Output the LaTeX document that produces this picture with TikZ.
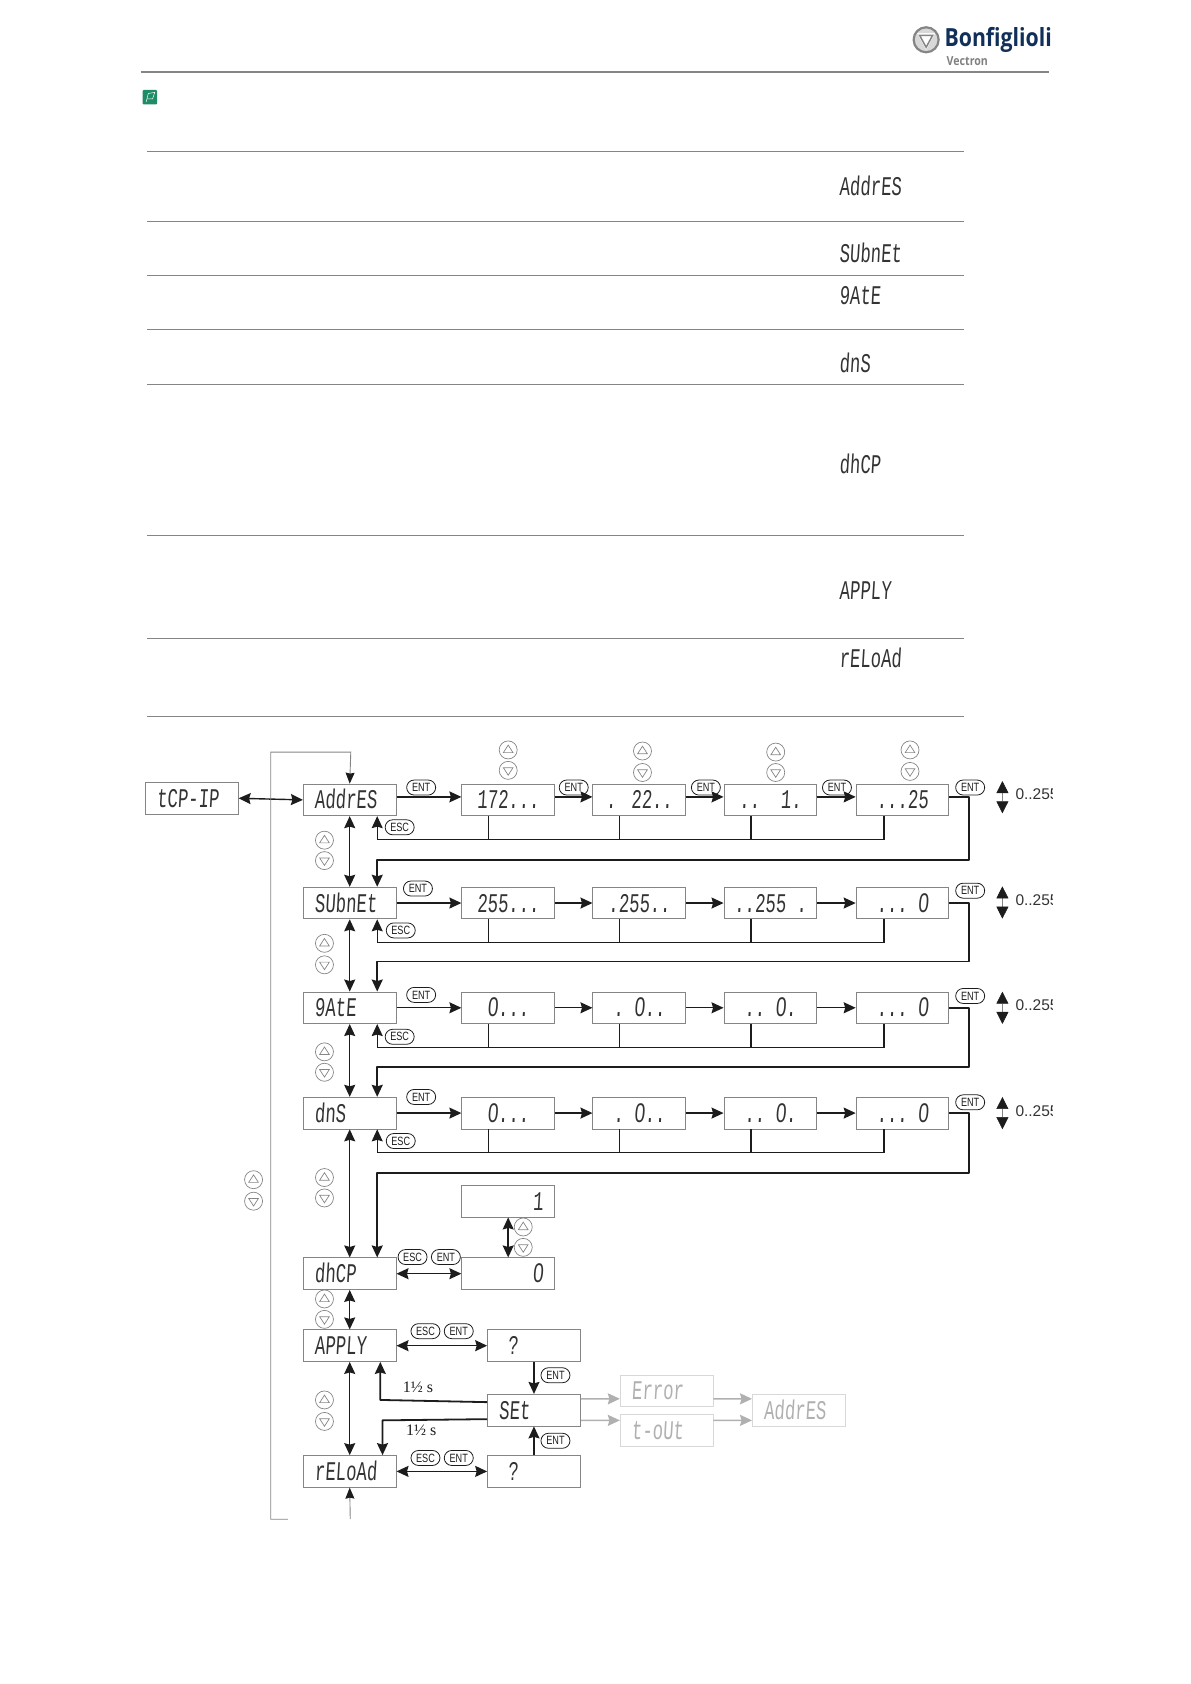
\documentclass[tikz,border=0pt]{standalone}
\usepackage{fontspec}
\usetikzlibrary{arrows.meta,shapes.misc}
\setmainfont{Liberation Sans}
\newfontfamily\lcd[FakeStretch=0.64,FakeSlant=0.06]{Liberation Mono}
\newfontfamily\lcdalt[FakeStretch=0.7,FakeSlant=0.08]{Liberation Sans}
\newfontfamily\pillfont[FakeStretch=0.76]{Liberation Sans}
\newfontfamily\logofont[FakeStretch=0.85]{Open Sans}
\newfontfamily\timefont{Liberation Serif}
\newcommand{\Zr}{{\lcdalt 0}}
\definecolor{ink}{HTML}{1C1C1C}
\definecolor{boxline}{HTML}{858585}
\definecolor{faint}{HTML}{B0B0B0}
\definecolor{faintline}{HTML}{D8D8D8}
\definecolor{lcdtext}{HTML}{333333}
\definecolor{logoblue}{HTML}{10305A}
\definecolor{icongreen}{HTML}{1E8C66}
\tikzset{
  lcdfont/.style={font=\lcd\fontsize{27}{27}\selectfont,text=lcdtext,text height=18pt,text depth=0pt},
  basebox/.style={draw=boxline,line width=0.8pt,rectangle,minimum width=92.8pt,minimum height=31.7pt,inner sep=0pt,lcdfont},
  lbox/.style={basebox,text width=70pt,align=left},
  vbox/.style={basebox,align=center},
  rbox/.style={basebox,text width=70pt,align=right},
  fadedbox/.style={lbox,draw=faintline,text=faint},
  plainlcd/.style={lcdfont,anchor=west,inner sep=0pt},
  pill/.style={draw=ink,line width=0.8pt,rounded rectangle,minimum width=29pt,minimum height=15pt,inner sep=0pt,font=\pillfont\fontsize{12}{12}\selectfont,text=ink},
  upbtn/.style={draw=boxline,line width=0.7pt,circle,minimum size=18pt,inner sep=0pt,
    path picture={\draw[line width=0.7pt,draw=boxline,shift={(path picture bounding box.center)}] (-4.5,2.5)--(4.5,2.5)--(0,-4.5)--cycle;}},
  downbtn/.style={draw=boxline,line width=0.7pt,circle,minimum size=18pt,inner sep=0pt,
    path picture={\draw[line width=0.7pt,draw=boxline,shift={(path picture bounding box.center)}] (-4.5,-2.5)--(4.5,-2.5)--(0,4.5)--cycle;}},
  arr/.style={draw=ink,line width=1.4pt,-{Stealth[length=12pt,width=11pt,inset=1.5pt]}},
  dbl/.style={draw=ink,line width=1.4pt,{Stealth[length=12pt,width=11pt,inset=1.5pt]}-{Stealth[length=12pt,width=11pt,inset=1.5pt]}},
  bus/.style={draw=ink,line width=1.2pt},
  thickbus/.style={draw=ink,line width=1.8pt,line join=round},
  thinarr/.style={draw=boxline,line width=0.9pt,-{Stealth[length=11pt,width=9pt,inset=1pt,color=ink]}},
  fadearr/.style={draw=faint,line width=1.5pt,-{Stealth[length=12pt,width=11pt,inset=1.5pt]}},
  tablerule/.style={draw=boxline,line width=0.9pt},
  rangetxt/.style={anchor=west,inner sep=0pt,font=\fontsize{15.5}{15.5}\selectfont,text=lcdtext},
  timetxt/.style={inner sep=0pt,font=\timefont\fontsize{16}{16}\selectfont,text=ink},
}
\begin{document}
\begin{tikzpicture}[x=1.0744pt,y=-1.0744pt]
\useasboundingbox (0,0) rectangle (1108.5,1567.4);
% header
\coordinate (hl) at (131,67); \coordinate (hr) at (976,67);
\draw[draw=boxline,line width=1.5pt] (hl) -- (hr);
\node[circle,draw=boxline,line width=2.2pt,fill=faintline,minimum size=25pt,inner sep=0pt] (logoring) at (862,37) {};
\draw[draw=white,fill=white] (854,31) -- (870,31) -- (862,46) -- cycle;
\draw[draw=boxline,line width=1.5pt] (856,33) -- (868,33) -- (862,44) -- cycle;
\node[anchor=west,inner sep=0pt,text=logoblue,font=\logofont\bfseries\fontsize{25}{25}\selectfont] (logotext) at (879,37) {Bonfiglioli};
\node[anchor=west,inner sep=0pt,text=gray,font=\logofont\bfseries\fontsize{12.5}{12.5}\selectfont] (logosub) at (881,57) {Vectron};
\node[rectangle,fill=icongreen,rounded corners=1pt,minimum size=14.5pt,inner sep=0pt] (icon) at (139.5,90.5) {};
\draw[draw=white,line width=0.5pt] (136,95) -- (138,87) -- (144,86) -- (142,92) -- (137.5,92);
% table
\foreach \ry in {141,206,256,306.5,358,498,594,667}{
  \draw[tablerule] (137,\ry) -- (897,\ry);
}
\node[plainlcd] (t1) at (781,173.5) {AddrES};
\node[plainlcd] (t2) at (781,236) {SUbnEt};
\node[plainlcd] (t3) at (781,275) {9AtE};
\node[plainlcd] (t4) at (781,338) {dnS};
\node[plainlcd] (t5) at (781,432) {dhCP};
\node[plainlcd] (t6) at (781,550) {APPLY};
\node[plainlcd] (t7) at (781,613) {rELoAd};
% boxes
\node[lbox] (tcp) at (178.5,743) {tCP-IP};
\node[lbox] (a0) at (325.5,744.5) {AddrES};
\node[vbox] (a1) at (473,744.5) {172...};
\node[vbox] (a2) at (595,744.5) {.\,~22..};
\node[vbox] (a3) at (717,744.5) {..~~1.};
\node[vbox] (a4) at (840,744.5) {...25};
\node[lbox] (b0) at (325.5,840.5) {SUbnEt};
\node[vbox] (b1) at (473,840.5) {255...};
\node[vbox] (b2) at (595,840.5) {.255..};
\node[vbox] (b3) at (717,840.5) {..255~.};
\node[vbox] (b4) at (840,840.5) {...~\Zr};
\node[lbox] (c0) at (325.5,938) {9AtE};
\node[vbox] (c1) at (473,938) {\Zr...};
\node[vbox] (c2) at (595,938) {.~\Zr..};
\node[vbox] (c3) at (717,938) {..~\Zr.};
\node[vbox] (c4) at (840,938) {...~\Zr};
\node[lbox] (d0) at (325.5,1036) {dnS};
\node[vbox] (d1) at (473,1036) {\Zr...};
\node[vbox] (d2) at (595,1036) {.~\Zr..};
\node[vbox] (d3) at (717,1036) {..~\Zr.};
\node[vbox] (d4) at (840,1036) {...~\Zr};
\node[lbox] (e0) at (325.5,1185.5) {dhCP};
\node[rbox] (e1) at (473,1185.5) {\Zr};
\node[rbox] (e2) at (473,1118) {1};
\node[lbox] (f0) at (325.5,1252.5) {APPLY};
\node[lbox] (f1) at (497,1252.5) {~?};
\node[lbox] (s0) at (497,1312.5) {SEt};
\node[lbox] (g0) at (325.5,1369.5) {rELoAd};
\node[lbox] (g1) at (497,1369.5) {~?};
\node[fadedbox] (err) at (620.5,1294.5) {Error};
\node[fadedbox] (tout) at (620.5,1331.5) {t-oUt};
\node[fadedbox] (addr) at (743.5,1312.5) {AddrES};
% row connectors
\foreach \r/\nx/\by/\sh in {a/b/59/3,b/c/54.5/0,c/d/55/0,d/e/56/0}{
  \draw[arr] ([yshift=\sh pt]\r0.east) -- ([yshift=\sh pt]\r1.west);
  \draw[arr] ([yshift=\sh pt]\r1.east) -- ([yshift=\sh pt]\r2.west);
  \draw[arr] ([yshift=\sh pt]\r2.east) -- ([yshift=\sh pt]\r3.west);
  \draw[arr] ([yshift=\sh pt]\r3.east) -- ([yshift=\sh pt]\r4.west);
  \draw[bus] ([xshift=-19.4pt]\r1.south) -- ++(0,21.5);
  \draw[bus] ([xshift=-19.4pt]\r2.south) -- ++(0,21.5);
  \draw[bus] ([xshift=-19.4pt]\r3.south) -- ++(0,21.5);
  \draw[arr,line width=1.2pt] ([xshift=-18.4pt]\r4.south) -- ++(0,21.5) -| ([xshift=27.5pt]\r0.south);
  \draw[arr,thickbus] ([yshift=\sh pt]\r4.east) -- ++(18,0) -- ++(0,\by) -| ([xshift=27.5pt]\nx0.north);
  \draw[dbl] (\r0.south) -- (\nx0.north);
}
\draw[dbl] (e0.south) -- (f0.north);
\draw[dbl] (f0.south) -- (g0.north);
\draw[dbl] (tcp.east) -- (a0.west);
\draw[dbl] (e0.east) -- (e1.west);
\draw[dbl] (e1.north) -- (e2.south);
\draw[dbl] (f0.east) -- (f1.west);
\draw[dbl] (g0.east) -- (g1.west);
\draw[arr] (f1.south) -- (s0.north);
\draw[arr] (g1.north) -- (s0.south);
\draw[arr,thickbus] ([yshift=8pt]s0.west) -- (354,1303) -- ([xshift=30.6pt]f0.south);
\draw[arr,thickbus] ([yshift=-9pt]s0.west) -- (356,1322) -- ([xshift=32.8pt]g0.north);
\draw[fadearr] ([yshift=11.3pt]s0.east) -- ([yshift=-8pt]err.west);
\draw[fadearr] ([yshift=-10.2pt]s0.east) -- ([yshift=10.2pt]tout.west);
\draw[fadearr] ([yshift=-8pt]err.east) -- ([yshift=11.3pt]addr.west);
\draw[fadearr] ([yshift=10.2pt]tout.east) -- ([yshift=-10.2pt]addr.west);
% outer grey return
\coordinate (retbot) at (252,1414);
\coordinate (retend) at (268,1414);
\coordinate (infeed) at (326,1414);
\draw[thinarr] (retend) -- (retbot) -- (252,700) -- (326.5,700) -- (a0.north);
\draw[thinarr] (infeed) -- (g0.south);
% ENT / ESC pills
\foreach \nm/\px/\py/\tx in {p1/392/733/ENT,p2/534/733/ENT,p3/657/733/ENT,p4/779/733/ENT,p5/903/733/ENT,
  p6/389/827/ENT,p7/903/829/ENT,p8/392/926/ENT,p9/903/927/ENT,p10/392/1021/ENT,p11/903/1026/ENT,
  q1/372/770/ESC,q2/373/866/ESC,q3/372/965/ESC,q4/373/1062/ESC,
  q5/384/1170/ESC,p12/415/1170/ENT,q6/396/1239/ESC,p13/427/1239/ENT,q7/396/1357/ESC,p14/427/1357/ENT,
  p15/517/1280/ENT,p16/517/1341/ENT}{
  \node[pill] (\nm) at (\px,\py) {\tx};
}
% arrow keys
\foreach \nm/\px/\pa/\pb in {k1/473/698/717,k2/598/699/719,k3/722/700/719,k4/847/698/718,
  k5/302/782/801,k6/302/878/898,k7/302/979/998,k8/302/1096/1115,k9/302/1209/1228,k10/302/1303/1323,
  k11/236/1098/1118,k12/487/1142/1161}{
  \node[upbtn] (\nm u) at (\px,\pa) {};
  \node[downbtn] (\nm d) at (\px,\pb) {};
}
% ranges at the right
\foreach \nm/\ya/\yb/\yt in {r1/727/757/739,r2/825/855/838,r3/923/953/936,r4/1021/1051/1034}{
  \coordinate (\nm t) at (933,\ya);
  \coordinate (\nm b) at (933,\yb);
  \draw[draw=boxline,line width=0.5pt,{Stealth[length=12pt,width=12pt,inset=0pt,color=ink]}-{Stealth[length=12pt,width=12pt,inset=0pt,color=ink]}] (\nm t) -- (\nm b);
  \begin{scope}
    \clip (940,\ya) rectangle (980,\yb);
    \node[rangetxt] (\nm x) at (945,\yt) {0..255};
  \end{scope}
}
\node[timetxt] (time1) at (389,1291) {1½ s};
\node[timetxt] (time2) at (392,1331) {1½ s};
\end{tikzpicture}
\end{document}
